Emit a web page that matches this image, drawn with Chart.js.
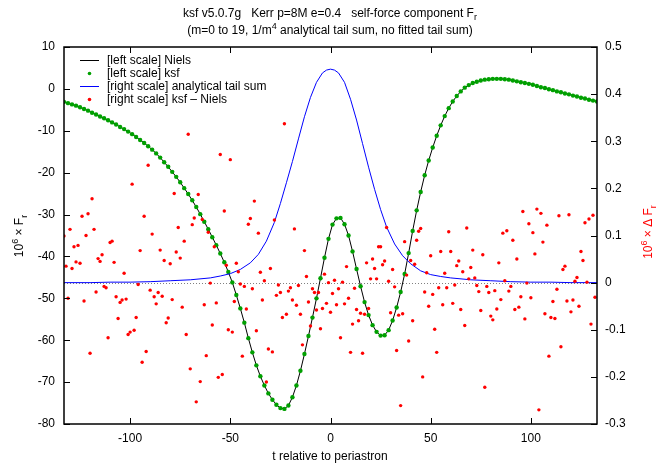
<!DOCTYPE html>
<html>
<head>
<meta charset="utf-8">
<script src="https://cdn.jsdelivr.net/npm/chart.js@4.4.0/dist/chart.umd.min.js"></script>
<style>
    body { margin: 0; background: #fff; }
</style>
</head>
<body>
<canvas id="myChart" width="660" height="463"></canvas>
<script>
// left scale: 10^6 x F_r (Niels and ksf agree to plotting accuracy), sampled every 2 in t from -133
const frStart = -133;
const frStep = 2;
const frValues = [
    -3.1, -3.4, -3.7, -4.0, -4.4, -4.8, -5.2, -5.7, -6.1, -6.6,
    -7.0, -7.5, -8.0, -8.5, -9.1, -9.6, -10.2, -10.8, -11.5, -12.2,
    -12.9, -13.7, -14.5, -15.4, -16.4, -17.5, -18.6, -19.8, -21.0, -22.3,
    -23.7, -25.1, -26.6, -28.2, -29.9, -31.7, -33.5, -35.4, -37.3, -39.3,
    -41.4, -43.7, -46.2, -49.2, -52.4, -55.8, -59.5, -62.9, -66.0, -68.6,
    -70.8, -72.7, -74.2, -75.4, -76.2, -76.4, -75.6, -73.6, -70.8, -67.3,
    -63.3, -59.0, -54.6, -50.0, -45.2, -40.3, -35.8, -32.4, -30.9, -30.8,
    -32.3, -35.0, -38.8, -43.0, -47.1, -50.9, -54.0, -56.4, -58.0, -58.9,
    -58.8, -57.6, -55.3, -52.2, -48.5, -44.2, -39.2, -33.9, -29.0, -24.6,
    -20.6, -17.1, -14.0, -11.2, -8.7, -6.5, -4.6, -3.0, -1.7, -0.6,
    0.3, 0.9, 1.4, 1.7, 2.0, 2.2, 2.3, 2.4, 2.4, 2.4,
    2.3, 2.2, 2.0, 1.8, 1.6, 1.4, 1.2, 1.0, 0.7, 0.4,
    0.2, -0.1, -0.3, -0.6, -0.8, -1.1, -1.3, -1.6, -1.8, -2.1,
    -2.3, -2.6, -2.8, -3.0
];

// right scale: analytical tail sum
const tailT = [-133, -120, -110, -100, -90, -80, -70, -60, -55, -50, -45, -40, -36, -32, -28, -25, -22, -19, -16, -13, -10, -7, -4, -2, 0,
    2, 4, 7, 10, 13, 16, 19, 22, 25, 28, 32, 36, 40, 45, 50, 55, 60, 70, 80, 90, 100, 110, 120, 133];
const tailValues = [0.000, 0.000, 0.001, 0.001, 0.002, 0.004, 0.006, 0.010, 0.014, 0.019, 0.028, 0.042, 0.060, 0.088, 0.128, 0.168, 0.212, 0.257, 0.305, 0.352, 0.393, 0.425, 0.445, 0.451, 0.453,
    0.451, 0.445, 0.425, 0.389, 0.345, 0.295, 0.245, 0.198, 0.155, 0.118, 0.082, 0.057, 0.040, 0.025, 0.017, 0.013, 0.010, 0.006, 0.004, 0.002, 0.001, 0.001, 0.000, 0.000];

// right scale: ksf - Niels, one value per unit of t from -133
const diffStart = -133;
const diffValues = [
    0.099, 0.035, -0.033, 0.113, 0.030, 0.076, 0.044, 0.079, 0.041, 0.141,
    -0.039, 0.100, 0.146, -0.150, 0.178, 0.113, -0.020, 0.051, 0.045, 0.059,
    -0.008, -0.011, -0.117, 0.085, 0.088, 0.043, -0.030, -0.076, -0.042, -0.037,
    0.020, -0.035, -0.110, -0.105, 0.209, -0.101, -0.074, -0.004, 0.068, -0.169,
    0.141, -0.146, 0.249, -0.016, 0.103, -0.030, -0.045, -0.021, 0.069, -0.029,
    0.047, -0.085, -0.075, 0.040, -0.036, 0.189, 0.065, 0.117, 0.052, -0.052,
    0.088, -0.110, 0.315, -0.183, 0.123, 0.137, -0.253, 0.187, -0.210, 0.134,
    -0.047, -0.155, 0.107, -0.001, -0.090, 0.076, -0.043, -0.201, 0.272, -0.195,
    0.152, 0.037, -0.100, 0.261, -0.105, -0.040, 0.041, 0.023, -0.003, -0.156,
    -0.008, -0.056, 0.124, 0.136, -0.013, 0.173, -0.102, 0.105, 0.022, -0.037,
    0.004, -0.211, -0.141, 0.030, -0.147, 0.133, -0.027, -0.005, -0.021, -0.074,
    0.337, -0.067, -0.018, -0.011, -0.037, 0.114, -0.048, -0.006, -0.067, -0.132,
    0.068, 0.013, -0.041, -0.092, -0.013, -0.021, -0.058, -0.021, -0.098, -0.055,
    0.018, -0.044, 0.000, -0.063, -0.023, 0.005, -0.047, -0.013, -0.117, 0.001,
    -0.045, 0.034, -0.033, -0.148, -0.088, -0.012, -0.057, -0.081, -0.065, -0.150,
    -0.067, 0.042, -0.055, 0.008, 0.050, 0.030, 0.008, 0.076, 0.076, 0.038,
    0.046, 0.117, 0.003, -0.064, 0.028, -0.009, -0.144, -0.069, -0.261, -0.066,
    0.087, 0.016, -0.124, 0.047, -0.081, 0.039, 0.090, 0.109, 0.115, -0.200,
    -0.020, 0.021, -0.050, 0.057, -0.025, -0.099, -0.148, -0.011, 0.066, -0.047,
    0.020, -0.011, 0.108, 0.066, -0.044, -0.005, 0.036, 0.046, -0.057, 0.023,
    -0.091, 0.116, 0.008, 0.032, 0.069, 0.010, -0.006, -0.019, -0.059, 0.059,
    -0.222, -0.008, -0.021, -0.071, -0.079, -0.017, -0.056, 0.042, -0.036, 0.105,
    0.004, 0.110, -0.018, -0.008, 0.090, -0.057, 0.050, -0.052, -0.030, 0.151,
    -0.077, -0.001, 0.125, -0.032, 0.106, 0.061, 0.156, -0.270, 0.147, 0.086,
    -0.066, 0.122, -0.156, -0.074, -0.040, -0.076, -0.014, 0.142, -0.136, 0.028,
    0.035, -0.039, 0.144, -0.062, -0.037, 0.003, 0.011, -0.050, 0.066, 0.047,
    0.127, 0.001, 0.135, -0.088, 0.143, -0.031
];

const xTicks = [-100, -50, 0, 50, 100];
const yTicks = [-80, -70, -60, -50, -40, -30, -20, -10, 0, 10];
const y2Ticks = [-0.3, -0.2, -0.1, 0, 0.1, 0.2, 0.3, 0.4, 0.5];

const legendLabels = ['[left scale] Niels', '[left scale] ksf', '[right scale] analytical tail sum', '[right scale] ksf \u2013 Niels'];

const FONT = '"Liberation Sans", Arial, sans-serif';

const frPoints = frValues.map((v, i) => ({x: frStart + i * frStep, y: v}));
const tailPoints = tailValues.map((v, i) => ({x: tailT[i], y: v}));
const diffPoints = diffValues.map((v, i) => ({x: diffStart + i, y: v}));

function richWidth(ctx, parts, size) {
    let w = 0;
    parts.forEach(p => {
        ctx.font = ((p.sub || p.sup) ? Math.round(size * 0.75) : size) + 'px ' + FONT;
        w += ctx.measureText(p.text).width;
    });
    return w;
}

// draws text with sub/superscripts centred on x, baseline y
function drawRich(ctx, parts, x, y, size) {
    let cx = x - richWidth(ctx, parts, size) / 2;
    ctx.textAlign = 'left';
    ctx.textBaseline = 'alphabetic';
    parts.forEach(p => {
        ctx.font = ((p.sub || p.sup) ? Math.round(size * 0.75) : size) + 'px ' + FONT;
        const dy = p.sub ? size * 0.3 : (p.sup ? -size * 0.45 : 0);
        ctx.fillText(p.text, cx, y + dy);
        cx += ctx.measureText(p.text).width;
    });
}

const gnuplotLook = {
    id: 'gnuplotLook',
    beforeDatasetsDraw(chart) {
        const ctx = chart.ctx;
        const area = chart.chartArea;
        const y0 = Math.round(chart.scales.y2.getPixelForValue(0)) + 0.5;
        ctx.save();
        ctx.strokeStyle = '#808080';
        ctx.lineWidth = 1;
        ctx.setLineDash([1, 2]);
        ctx.beginPath();
        ctx.moveTo(area.left, y0);
        ctx.lineTo(area.right, y0);
        ctx.stroke();
        ctx.restore();
    },
    afterDraw(chart) {
        const ctx = chart.ctx;
        const area = chart.chartArea;
        const sx = chart.scales.x, sy = chart.scales.y, sy2 = chart.scales.y2;
        const tick = 6;
        ctx.save();
        ctx.strokeStyle = '#000';
        ctx.lineWidth = 1;
        ctx.beginPath();
        sx.ticks.forEach(t => {
            const px = Math.round(sx.getPixelForValue(t.value)) + 0.5;
            ctx.moveTo(px, area.bottom); ctx.lineTo(px, area.bottom - tick);
            ctx.moveTo(px, area.top); ctx.lineTo(px, area.top + tick);
        });
        sy.ticks.forEach(t => {
            const py = Math.round(sy.getPixelForValue(t.value)) + 0.5;
            ctx.moveTo(area.left, py); ctx.lineTo(area.left + tick, py);
        });
        sy2.ticks.forEach(t => {
            const py = Math.round(sy2.getPixelForValue(t.value)) + 0.5;
            ctx.moveTo(area.right, py); ctx.lineTo(area.right - tick, py);
        });
        ctx.stroke();
        ctx.lineWidth = 1.5;
        ctx.strokeRect(area.left, area.top, area.right - area.left, area.bottom - area.top);

        // key
        const rows = [60.5, 73.5, 86.5, 99.5];
        ctx.font = '12px ' + FONT;
        ctx.textAlign = 'left';
        ctx.textBaseline = 'middle';
        ctx.fillStyle = '#000';
        legendLabels.forEach((label, i) => {
            ctx.fillText(label, 107, rows[i]);
        });
        ctx.lineWidth = 1;
        ctx.strokeStyle = '#000';
        ctx.beginPath(); ctx.moveTo(80, rows[0]); ctx.lineTo(99, rows[0]); ctx.stroke();
        ctx.strokeStyle = '#0000ff';
        ctx.beginPath(); ctx.moveTo(80, rows[2]); ctx.lineTo(99, rows[2]); ctx.stroke();
        ctx.fillStyle = '#00a000';
        ctx.beginPath(); ctx.arc(89.5, rows[1], 1.8, 0, Math.PI * 2); ctx.fill();
        ctx.fillStyle = '#ff0000';
        ctx.beginPath(); ctx.arc(89.5, rows[3], 1.8, 0, Math.PI * 2); ctx.fill();

        // titles
        ctx.fillStyle = '#000';
        drawRich(ctx, [{text: 'ksf v5.0.7g   Kerr p=8M e=0.4   self-force component F'}, {text: 'r', sub: true}], 330, 16.5, 12);
        drawRich(ctx, [{text: '(m=0 to 19, 1/m'}, {text: '4', sup: true}, {text: ' analytical tail sum, no fitted tail sum)'}], 330, 34, 12);
        ctx.font = '12px ' + FONT;
        ctx.textAlign = 'center';
        ctx.textBaseline = 'alphabetic';
        ctx.fillText('t relative to periastron', 330, 460);

        ctx.save();
        ctx.translate(23, 236);
        ctx.rotate(-Math.PI / 2);
        drawRich(ctx, [{text: '10'}, {text: '6', sup: true}, {text: ' \u00d7 F'}, {text: 'r', sub: true}], 0, 0, 12);
        ctx.restore();

        ctx.save();
        ctx.fillStyle = '#ff0000';
        ctx.translate(652, 232);
        ctx.rotate(-Math.PI / 2);
        drawRich(ctx, [{text: '10'}, {text: '6', sup: true}, {text: ' \u00d7 \u0394 F'}, {text: 'r', sub: true}], 0, 0, 12);
        ctx.restore();
        ctx.restore();
    }
};

const tickFont = {family: FONT, size: 12};

const ctx = document.getElementById('myChart');
const myChart = new Chart(ctx, {
    type: 'scatter',
    data: {
        datasets: [{
            label: legendLabels[3],
            data: diffPoints,
            yAxisID: 'y2',
            showLine: false,
            pointRadius: 1.7,
            pointBorderWidth: 0,
            pointBackgroundColor: '#ff0000',
            order: 0
        }, {
            label: legendLabels[2],
            data: tailPoints,
            yAxisID: 'y2',
            showLine: true,
            borderColor: '#0000ff',
            borderWidth: 1,
            pointRadius: 0,
            order: 1
        }, {
            label: legendLabels[1],
            data: frPoints,
            yAxisID: 'y',
            showLine: false,
            pointRadius: 2.2,
            pointBorderWidth: 0,
            pointBackgroundColor: '#00a000',
            order: 2
        }, {
            label: legendLabels[0],
            data: frPoints,
            yAxisID: 'y',
            showLine: true,
            borderColor: '#000000',
            borderWidth: 1,
            pointRadius: 0,
            order: 3
        }]
    },
    options: {
        responsive: false,
        animation: false,
        devicePixelRatio: 1,
        layout: {
            padding: {top: 47, left: 0, right: 0, bottom: 0}
        },
        plugins: {
            legend: {display: false},
            title: {display: false},
            tooltip: {enabled: false}
        },
        scales: {
            x: {
                type: 'linear',
                min: -133,
                max: 133,
                afterBuildTicks: s => { s.ticks = xTicks.map(v => ({value: v})); },
                afterFit: s => { s.height = 39; },
                grid: {display: false, drawTicks: false},
                border: {display: false},
                ticks: {color: '#000', font: tickFont, padding: 7, maxRotation: 0}
            },
            y: {
                type: 'linear',
                position: 'left',
                min: -80,
                max: 10,
                afterBuildTicks: s => { s.ticks = yTicks.map(v => ({value: v})); },
                afterFit: s => { s.width = 64; },
                grid: {display: false, drawTicks: false},
                border: {display: false},
                ticks: {color: '#000', font: tickFont, padding: 9}
            },
            y2: {
                type: 'linear',
                position: 'right',
                min: -0.3,
                max: 0.5,
                afterBuildTicks: s => { s.ticks = y2Ticks.map(v => ({value: v})); },
                afterFit: s => { s.width = 63; },
                grid: {display: false, drawTicks: false},
                border: {display: false},
                ticks: {
                    color: '#000',
                    font: tickFont,
                    padding: 8,
                    callback: v => Math.abs(v) < 1e-9 ? '0' : v.toFixed(1)
                }
            }
        }
    },
    plugins: [gnuplotLook]
});
</script>
</body>
</html>
